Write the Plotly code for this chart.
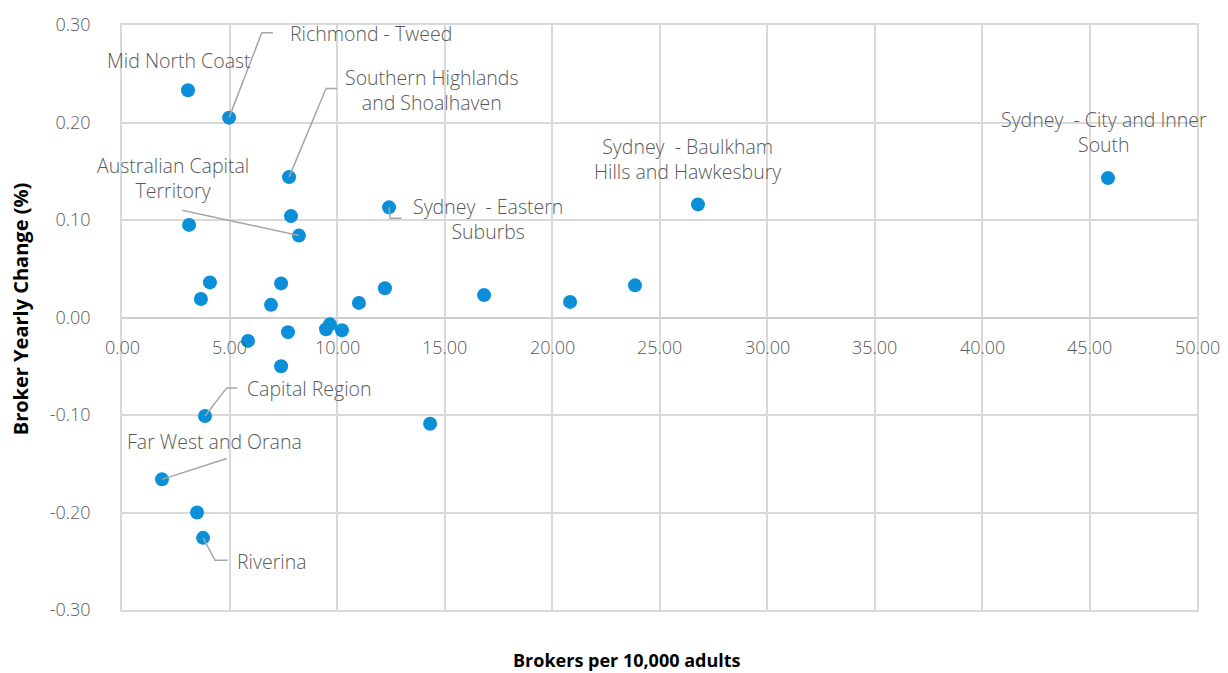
import plotly.graph_objects as go

# Brokers per 10,000 adults vs yearly change in broker numbers, by NSW/ACT region
brokers_per_10k = [3.07, 4.98, 7.77, 7.86, 8.23, 3.12, 4.09, 3.67, 7.40, 6.93,
                   12.42, 12.23, 11.02, 16.84, 20.84, 23.86, 26.79, 45.86, 5.86, 7.72,
                   9.49, 9.67, 10.23, 7.40, 3.86, 14.33, 1.86, 3.49, 3.77]
yearly_change = [0.233, 0.205, 0.144, 0.104, 0.084, 0.095, 0.036, 0.019, 0.035, 0.013,
                 0.113, 0.030, 0.015, 0.023, 0.016, 0.033, 0.116, 0.143, -0.024, -0.015,
                 -0.012, -0.007, -0.013, -0.050, -0.101, -0.109, -0.166, -0.200, -0.226]
region_names = ["Mid North Coast", "Richmond - Tweed", "Southern Highlands and Shoalhaven", "", "Australian Capital Territory",
                "", "", "", "", "",
                "Sydney - Eastern Suburbs", "", "", "", "",
                "", "Sydney - Baulkham Hills and Hawkesbury", "Sydney - City and Inner South", "", "",
                "", "", "", "", "Capital Region",
                "", "Far West and Orana", "", "Riverina"]

x_ticks = [0, 5, 10, 15, 20, 25, 30, 35, 40, 45, 50]
y_ticks = [-0.3, -0.2, -0.1, 0.0, 0.1, 0.2, 0.3]

# Label placement: text (display string, anchor point, alignment) and leader-line waypoints
label_layout = {
    "Mid North Coast": dict(text="Mid North Coast", pos=(2.65, 0.264), xanchor="center", leader=None),
    "Richmond - Tweed": dict(text="Richmond - Tweed", pos=(7.72, 0.291), xanchor="left",
                             leader=[(6.50, 0.292), (7.02, 0.292)]),
    "Southern Highlands and Shoalhaven": dict(text="Southern Highlands<br>and Shoalhaven", pos=(14.42, 0.233),
                                              xanchor="center", leader=[(9.49, 0.235), (10.0, 0.235)]),
    "Australian Capital Territory": dict(text="Australian Capital<br>Territory", pos=(2.35, 0.143),
                                         xanchor="center", leader=[(2.79, 0.110)]),
    "Sydney - Eastern Suburbs": dict(text="Sydney  - Eastern<br>Suburbs", pos=(17.0, 0.101), xanchor="center",
                                     leader=[(12.47, 0.1017), (13.0, 0.1017)]),
    "Sydney - Baulkham Hills and Hawkesbury": dict(text="Sydney  - Baulkham<br>Hills and Hawkesbury",
                                                   pos=(26.28, 0.163), xanchor="center", leader=None),
    "Sydney - City and Inner South": dict(text="Sydney  - City and Inner<br>South", pos=(45.67, 0.190),
                                          xanchor="center", leader=None),
    "Capital Region": dict(text="Capital Region", pos=(5.72, -0.0732), xanchor="left",
                           leader=[(4.87, -0.0722), (5.36, -0.0722)]),
    "Far West and Orana": dict(text="Far West and Orana", pos=(4.28, -0.127), xanchor="center",
                               leader=[(4.87, -0.1447)]),
    "Riverina": dict(text="Riverina", pos=(5.26, -0.250), xanchor="left",
                     leader=[(4.33, -0.249), (4.91, -0.249)]),
}

FONT = "Open Sans"
TEXT_GREY = "#595959"
GRID = "#d9d9d9"
LEADER = "#a6a6a6"

fig = go.Figure()
fig.add_trace(go.Scatter(
    x=brokers_per_10k, y=yearly_change, mode="markers",
    marker=dict(size=14, color="#0b8fd9", line=dict(width=0)),
    hovertext=region_names, showlegend=False,
))

annotations = []
shapes = []
for name, bx, by in zip(region_names, brokers_per_10k, yearly_change):
    if not name:
        continue
    spec = label_layout[name]
    lx, ly = spec["pos"]
    annotations.append(dict(
        x=lx, y=ly, xref="x", yref="y", text=spec["text"], showarrow=False,
        xanchor=spec["xanchor"], yanchor="middle", align="center",
        font=dict(family=FONT, size=19.5, color=TEXT_GREY, weight=300),
    ))
    if spec["leader"]:
        pts = [(bx, by)] + spec["leader"]
        path = "M " + " L ".join(f"{px},{py}" for px, py in pts)
        shapes.append(dict(type="path", path=path, xref="x", yref="y",
                           line=dict(color=LEADER, width=1.5), layer="above"))

# x tick labels sit along the zero line, as the axis crosses at y = 0
for t in x_ticks:
    annotations.append(dict(
        x=t, y=0, xref="x", yref="y", text=f"{t:.2f}", showarrow=False,
        xanchor="center", yanchor="top", yshift=-15,
        font=dict(family=FONT, size=18, color=TEXT_GREY, weight=300),
    ))

# axis titles
annotations.append(dict(
    x=(20 - 122) / 1075, y=0.514, xref="paper", yref="paper", text="<b>Broker Yearly Change (%)</b>",
    showarrow=False, textangle=-90, xanchor="center", yanchor="middle",
    font=dict(family=FONT, size=20, color="#000000"),
))
annotations.append(dict(
    x=0.47, y=-0.085, xref="paper", yref="paper", text="<b>Brokers per 10,000 adults</b>",
    showarrow=False, xanchor="center", yanchor="middle",
    font=dict(family=FONT, size=18, color="#000000"),
))

fig.update_layout(
    width=1228, height=673,
    margin=dict(l=122, r=31, t=19, b=63),
    paper_bgcolor="white", plot_bgcolor="white",
    annotations=annotations, shapes=shapes,
    xaxis=dict(range=[0, 50], tickvals=x_ticks, showticklabels=False, showgrid=True,
               gridcolor=GRID, gridwidth=1.5, zeroline=False, showline=True, linecolor=GRID,
               linewidth=1.5, mirror=True, fixedrange=True),
    yaxis=dict(range=[-0.3, 0.3], tickvals=y_ticks, ticktext=[f"{v:.2f}" for v in y_ticks],
               showgrid=True, gridcolor=GRID, gridwidth=1.5, zeroline=True, zerolinecolor="#cfcfcf",
               zerolinewidth=1.5, showline=True, linecolor=GRID, linewidth=1.5, mirror=True,
               ticklabelstandoff=26, ticks="",
               tickfont=dict(family=FONT, size=18, color=TEXT_GREY, weight=300), fixedrange=True),
)

fig.write_html("out.html")
